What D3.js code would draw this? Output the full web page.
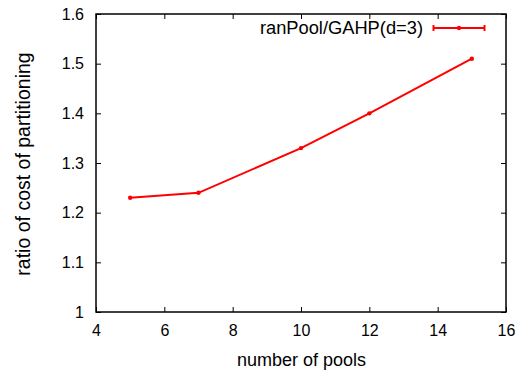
<!DOCTYPE html>
<html>
<head>
<meta charset="utf-8">
<script src="https://cdn.jsdelivr.net/npm/d3@7"></script>
<style>
  body { margin: 0; background: #fff; }
  text { font-family: "Liberation Sans", Arial, sans-serif; }
</style>
</head>
<body>
<script>
const pools = [5, 7, 10, 12, 15];
const ratio = [1.23, 1.24, 1.33, 1.40, 1.51];
const xTicks = [4, 6, 8, 10, 12, 14, 16];
const yTicks = [1, 1.1, 1.2, 1.3, 1.4, 1.5, 1.6];
const seriesName = "ranPool/GAHP(d=3)";

const w = 522, h = 374;
const pLeft = 96, pRight = 506, pTop = 14, pBottom = 312;

const svg = d3.select("body").append("svg")
  .attr("width", w)
  .attr("height", h);

const x = d3.scaleLinear().domain([4, 16]).range([pLeft, pRight]);
const y = d3.scaleLinear().domain([1, 1.6]).range([pBottom, pTop]);

// ticks on all four sides, pointing inward
const tick = 5;
const fmt = d => d3.format("~g")(d);

svg.append("g")
  .attr("transform", `translate(0,${pBottom})`)
  .call(d3.axisBottom(x).tickValues(xTicks).tickSizeInner(-tick).tickSizeOuter(0).tickPadding(13).tickFormat(fmt))
  .call(g => g.select(".domain").remove());
svg.append("g")
  .attr("transform", `translate(0,${pTop})`)
  .call(d3.axisTop(x).tickValues(xTicks).tickSizeInner(-tick).tickSizeOuter(0).tickFormat(""))
  .call(g => g.select(".domain").remove());
svg.append("g")
  .attr("transform", `translate(${pLeft},0)`)
  .call(d3.axisLeft(y).tickValues(yTicks).tickSizeInner(-tick).tickSizeOuter(0).tickPadding(12).tickFormat(fmt))
  .call(g => g.select(".domain").remove());
svg.append("g")
  .attr("transform", `translate(${pRight},0)`)
  .call(d3.axisRight(y).tickValues(yTicks).tickSizeInner(-tick).tickSizeOuter(0).tickFormat(""))
  .call(g => g.select(".domain").remove());

svg.selectAll(".tick line").attr("stroke", "#000").attr("stroke-width", 1);
svg.selectAll(".tick text").attr("font-size", 16).attr("fill", "#000")
  .attr("font-family", "Liberation Sans, Arial, sans-serif");

svg.append("rect")
  .attr("x", pLeft).attr("y", pTop)
  .attr("width", pRight - pLeft).attr("height", pBottom - pTop)
  .attr("fill", "none").attr("stroke", "#000").attr("stroke-width", 1.5);

const data = pools.map((p, i) => [p, ratio[i]]);

svg.append("path")
  .datum(data)
  .attr("fill", "none")
  .attr("stroke", "#f00")
  .attr("stroke-width", 2)
  .attr("d", d3.line().x(d => x(d[0])).y(d => y(d[1])));

svg.selectAll(".pt")
  .data(data)
  .enter().append("circle")
  .attr("cx", d => x(d[0]))
  .attr("cy", d => y(d[1]))
  .attr("r", 2.2)
  .attr("fill", "#f00");

// legend
const lg = svg.append("g").attr("transform", "translate(0,28)");
lg.append("text")
  .attr("x", 423).attr("y", 6)
  .attr("text-anchor", "end").attr("font-size", 18.3)
  .text(seriesName);
lg.append("line").attr("x1", 433.5).attr("x2", 484.5).attr("stroke", "#f00").attr("stroke-width", 2);
[433.5, 484.5].forEach(cx => lg.append("line")
  .attr("x1", cx).attr("x2", cx).attr("y1", -3).attr("y2", 3)
  .attr("stroke", "#f00").attr("stroke-width", 2));
lg.append("circle").attr("cx", 459).attr("cy", 0).attr("r", 2.2).attr("fill", "#f00");

// axis titles
svg.append("text")
  .attr("x", 301.5).attr("y", 366)
  .attr("text-anchor", "middle").attr("font-size", 18)
  .text("number of pools");
svg.append("text")
  .attr("transform", `translate(30,164) rotate(-90)`)
  .attr("text-anchor", "middle").attr("font-size", 19.5)
  .text("ratio of cost of partitioning");
</script>
</body>
</html>
